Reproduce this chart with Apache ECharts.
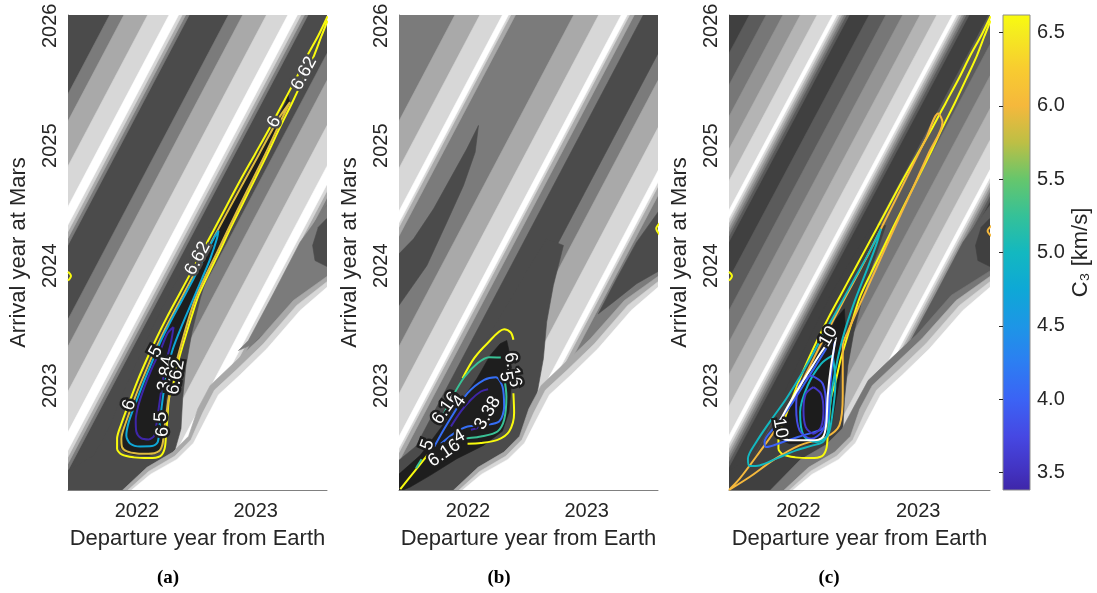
<!DOCTYPE html>
<html>
<head>
<meta charset="utf-8">
<script src="https://cdn.jsdelivr.net/npm/echarts@6.0.0/dist/echarts.min.js"></script>
<style>
html,body{margin:0;padding:0;background:#ffffff;}
#chart{width:1097px;height:593px;}
</style>
</head>
<body>
<div id="chart"></div>
<script>
// ---------------- axes / ticks / texts ----------------
const xRange = [2021.42, 2023.60];
const yRange = [2022.13, 2026.09];
const xTicks = [2022, 2023];
const yTicks = [2023, 2024, 2025, 2026];
const cRange = [3.38, 6.62];
const cTicks = [3.5, 4.0, 4.5, 5.0, 5.5, 6.0, 6.5];
const panelNames = ['(a)', '(b)', '(c)'];
const xTitle = 'Departure year from Earth';
const yTitle = 'Arrival year at Mars';
const cTitle = 'C\u2083 [km/s]';
const climA = [3.84, 6.62], climB = [3.38, 6.16], climC = [3.38, 6.62];

// ---------------- filled-contour regions (level, polygon in data units) ----------------
const frame = [[2021.3,2022.0],[2023.7,2022.0],[2023.7,2026.2],[2021.3,2026.2]];
const stripeY = [2026.2, 2022.0];
// [level, x top-left, x top-right, x bottom-right, x bottom-left]
const stripesA = [
 [2,2021.829,2022.499,2020.264,2019.594],[3,2021.949,2022.469,2020.234,2019.714],[4,2022.149,2022.439,2020.204,2019.914],[5,2022.329,2022.409,2020.174,2020.094],
 [2,2022.829,2023.499,2021.264,2020.594],[3,2022.949,2023.469,2021.234,2020.714],[4,2023.149,2023.439,2021.204,2020.914],[5,2023.329,2023.409,2021.174,2021.094],
 [2,2023.829,2024.499,2022.264,2021.594],[3,2023.949,2024.469,2022.234,2021.714],[4,2024.149,2024.439,2022.204,2021.914],[5,2024.329,2024.409,2022.174,2022.094],
 [2,2024.829,2025.499,2023.264,2022.594],[3,2024.949,2025.469,2023.234,2022.714],[4,2025.149,2025.439,2023.204,2022.914],[5,2025.329,2025.409,2023.174,2023.094]
];
const stripesB = [
 [3,2021.949,2022.459,2020.224,2019.714],[4,2022.159,2022.419,2020.184,2019.924],[5,2022.349,2022.399,2020.164,2020.114],
 [3,2022.949,2023.459,2021.224,2020.714],[4,2023.159,2023.419,2021.184,2020.924],[5,2023.349,2023.399,2021.164,2021.114],
 [3,2023.949,2024.459,2022.224,2021.714],[4,2024.159,2024.419,2022.184,2021.924],[5,2024.349,2024.399,2022.164,2022.114],
 [3,2024.949,2025.459,2023.224,2022.714],[4,2025.159,2025.419,2023.184,2022.924],[5,2025.349,2025.399,2023.164,2023.114],
 [1,2023.535,2023.829,2021.594,2021.300]
];
const stripesC = [
 [2,2021.649,2022.484,2020.249,2019.414],[3,2021.789,2022.459,2020.224,2019.554],[4,2021.929,2022.439,2020.204,2019.694],[5,2022.074,2022.419,2020.184,2019.839],[6,2022.214,2022.399,2020.164,2019.979],[7,2022.345,2022.379,2020.144,2020.110],
 [2,2022.649,2023.484,2021.249,2020.414],[3,2022.789,2023.459,2021.224,2020.554],[4,2022.929,2023.439,2021.204,2020.694],[5,2023.074,2023.419,2021.184,2020.839],[6,2023.214,2023.399,2021.164,2020.979],[7,2023.345,2023.379,2021.144,2021.110],
 [2,2023.649,2024.484,2022.249,2021.414],[3,2023.789,2024.459,2022.224,2021.554],[4,2023.929,2024.439,2022.204,2021.694],[5,2024.074,2024.419,2022.184,2021.839],[6,2024.214,2024.399,2022.164,2021.979],[7,2024.345,2024.379,2022.144,2022.110],
 [2,2024.649,2025.484,2023.249,2022.414],[3,2024.789,2025.459,2023.224,2022.554],[4,2024.929,2025.439,2023.204,2022.694],[5,2025.074,2025.419,2023.184,2022.839],[6,2025.214,2025.399,2023.164,2022.979],[7,2025.345,2025.379,2023.144,2023.110]
];
const valleyHaloA = [[2022.729,2024.335],[2022.617,2024.002],[2022.533,2023.724],[2022.463,2023.446],[2022.413,2023.168],[2022.385,2022.891],[2022.371,2022.641],[2022.315,2022.446],[2022.175,2022.307],[2021.973,2022.196],[2021.82,2022.0],[2021.3,2022.0],[2021.3,2022.224],[2021.637,2022.418],[2021.777,2022.669],[2021.861,2022.891],[2021.973,2023.141],[2022.113,2023.446],[2022.281,2023.780],[2022.477,2024.113],[2022.617,2024.335]];
const tongueA = [[2023.65,2024.571],[2023.374,2024.196],[2023.149,2023.766],[2022.939,2023.377],[2022.855,2023.293],[2022.981,2023.349],[2023.205,2023.571],[2023.429,2023.780],[2023.65,2023.919]];
const lensA = [[2023.65,2024.446],[2023.527,2024.321],[2023.479,2024.168],[2023.499,2024.043],[2023.65,2023.968]];
const invalidHaloC = [[2023.65,2023.988],[2023.275,2023.752],[2022.995,2023.432],[2022.771,2023.224],[2022.583,2023.044],[2022.477,2022.849],[2022.365,2022.641],[2022.231,2022.507],[2022.015,2022.382],[2021.64,2022.0],[2023.65,2022.0]];
const invalidHalo1 = [[2023.65,2023.946],[2023.317,2023.710],[2023.031,2023.391],[2022.807,2023.180],[2022.617,2023.002],[2022.513,2022.807],[2022.435,2022.579],[2022.303,2022.446],[2022.085,2022.319],[2021.74,2022.0],[2023.65,2022.0]];
const invalidHalo2 = [[2023.65,2023.905],[2023.345,2023.669],[2023.065,2023.349],[2022.841,2023.135],[2022.653,2022.963],[2022.553,2022.771],[2022.455,2022.549],[2022.320,2022.413],[2022.099,2022.285],[2021.78,2022.0],[2023.65,2022.0]];
const invalidRegion = [[2023.65,2023.863],[2023.374,2023.627],[2023.094,2023.307],[2022.870,2023.091],[2022.687,2022.924],[2022.589,2022.738],[2022.477,2022.521],[2022.337,2022.385],[2022.113,2022.260],[2021.80,2022.0],[2023.65,2022.0]];
const blackA = [[2023.272,2025.419],[2023.255,2025.363],[2023.143,2025.155],[2023.017,2024.932],[2022.779,2024.502],[2022.569,2024.113],[2022.373,2023.752],[2022.191,2023.404],[2022.023,2023.030],[2021.891,2022.682],[2021.861,2022.557],[2021.861,2022.480],[2021.903,2022.441],[2021.987,2022.424],[2022.099,2022.418],[2022.183,2022.441],[2022.214,2022.502],[2022.225,2022.613],[2022.247,2022.891],[2022.287,2023.030],[2022.331,2023.224],[2022.385,2023.404],[2022.441,2023.585],[2022.497,2023.752],[2022.581,2023.932],[2022.670,2024.113],[2022.763,2024.307],[2022.861,2024.502],[2022.973,2024.724],[2023.076,2024.932],[2023.183,2025.155],[2023.286,2025.363]];
const leftTongueB = [[2022.089,2025.169],[2021.991,2024.974],[2021.851,2024.724],[2021.711,2024.474],[2021.543,2024.224],[2021.38,2024.058],[2021.38,2023.613],[2021.655,2024.002],[2021.823,2024.363],[2021.963,2024.669],[2022.061,2024.946]];
const darkHaloB = [[2022.804,2024.169],[2022.719,2023.835],[2022.663,2023.530],[2022.635,2023.224],[2022.579,2022.919],[2022.509,2022.669],[2022.411,2022.446],[2022.243,2022.307],[2021.963,2022.196],[2021.78,2022.0],[2021.3,2022.0],[2021.3,2022.280],[2021.571,2022.502],[2021.767,2022.780],[2021.963,2023.057],[2022.131,2023.335],[2022.327,2023.669],[2022.523,2024.002],[2022.663,2024.224]];
const lensB = [[2023.65,2024.516],[2023.420,2024.196],[2023.252,2023.891],[2023.098,2023.599],[2023.224,2023.696],[2023.420,2023.850],[2023.65,2023.980]];
const blackB = [[2022.327,2023.377],[2022.360,2023.224],[2022.365,2023.000],[2022.345,2022.780],[2022.290,2022.620],[2022.131,2022.502],[2021.907,2022.391],[2021.683,2022.252],[2021.515,2022.155],[2021.38,2022.10],[2021.375,2022.224],[2021.599,2022.419],[2021.767,2022.641],[2021.935,2022.863],[2022.075,2023.057],[2022.187,2023.252],[2022.271,2023.349]];
const blackC = [[2022.384,2023.641],[2022.392,2023.474],[2022.364,2023.196],[2022.322,2022.919],[2022.281,2022.696],[2022.225,2022.557],[2022.092,2022.516],[2021.925,2022.516],[2021.828,2022.557],[2021.842,2022.669],[2021.925,2022.835],[2022.064,2023.085],[2022.203,2023.335],[2022.314,2023.557]];

// ---------------- contour lines (level value, points) ----------------
const yellowA = [[2023.605,2026.080],[2023.527,2025.919],[2023.435,2025.752],[2023.345,2025.571],[2023.233,2025.363],[2023.121,2025.155],[2022.995,2024.932],[2022.869,2024.710],[2022.757,2024.502],[2022.645,2024.293],[2022.547,2024.113],[2022.449,2023.932],[2022.351,2023.752],[2022.253,2023.571],[2022.169,2023.404],[2022.085,2023.224],[2022.001,2023.030],[2021.931,2022.849],[2021.869,2022.682],[2021.833,2022.557],[2021.833,2022.474],[2021.875,2022.424],[2021.973,2022.402],[2022.099,2022.396],[2022.197,2022.413],[2022.233,2022.474],[2022.245,2022.585],[2022.253,2022.682],[2022.270,2022.891],[2022.309,2023.030],[2022.354,2023.224],[2022.407,2023.404],[2022.463,2023.585],[2022.519,2023.752],[2022.603,2023.932],[2022.693,2024.113],[2022.785,2024.307],[2022.883,2024.502],[2022.995,2024.724],[2023.099,2024.932],[2023.205,2025.155],[2023.309,2025.363],[2023.401,2025.557],[2023.491,2025.752],[2023.555,2025.919],[2023.605,2026.044]];
const orangeA = [[2023.289,2025.363],[2023.191,2025.224],[2023.029,2024.932],[2022.791,2024.502],[2022.581,2024.113],[2022.385,2023.752],[2022.203,2023.404],[2022.035,2023.030],[2021.903,2022.682],[2021.869,2022.557],[2021.875,2022.488],[2021.917,2022.452],[2022.001,2022.435],[2022.099,2022.432],[2022.183,2022.452],[2022.214,2022.507],[2022.228,2022.613],[2022.236,2022.682],[2022.292,2023.030],[2022.390,2023.404],[2022.502,2023.752],[2022.676,2024.113],[2022.866,2024.502],[2023.082,2024.932],[2023.219,2025.224],[2023.289,2025.363]];
const cyanA = [[2022.687,2024.293],[2022.645,2024.224],[2022.561,2024.057],[2022.477,2023.891],[2022.379,2023.710],[2022.281,2023.530],[2022.197,2023.363],[2022.127,2023.196],[2022.057,2023.030],[2021.987,2022.849],[2021.931,2022.696],[2021.911,2022.585],[2021.945,2022.516],[2022.029,2022.493],[2022.127,2022.496],[2022.175,2022.529],[2022.191,2022.669],[2022.203,2022.780],[2022.225,2022.946],[2022.253,2023.113],[2022.303,2023.307],[2022.379,2023.502],[2022.463,2023.696],[2022.547,2023.891],[2022.617,2024.057],[2022.673,2024.224],[2022.687,2024.293]];
const purpleA = [[2022.309,2023.488],[2022.287,2023.363],[2022.253,2023.224],[2022.225,2023.085],[2022.203,2022.946],[2022.183,2022.807],[2022.163,2022.669],[2022.147,2022.585],[2022.099,2022.552],[2022.035,2022.563],[2021.995,2022.618],[2021.990,2022.710],[2022.012,2022.835],[2022.063,2022.988],[2022.127,2023.146],[2022.197,2023.293],[2022.259,2023.438],[2022.309,2023.488]];
const edgeBitA = [[2021.42,2023.950],[2021.445,2023.915],[2021.42,2023.875]];
const linesA = [[6.62, yellowA], [6.0, orangeA], [5.0, cyanA], [3.84, purpleA], [6.62, edgeBitA]];

const yellowB1 = [[2021.955,2023.062],[2022.053,2023.229],[2022.165,2023.354],[2022.305,2023.471],[2022.361,2023.443],[2022.383,2023.382]];
const yellowB2 = [[2022.383,2022.937],[2022.389,2022.771],[2022.347,2022.618],[2022.249,2022.548],[2022.109,2022.521],[2021.997,2022.515]];
const yellowB3 = [[2021.431,2022.137],[2021.549,2022.284],[2021.661,2022.423]];
const greenB1 = [[2021.759,2022.687],[2021.871,2022.909],[2021.969,2023.070],[2022.081,2023.187],[2022.179,2023.237],[2022.277,2023.234]];
const greenB2 = [[2022.305,2023.070],[2022.324,2022.909],[2022.305,2022.715],[2022.249,2022.618],[2022.109,2022.576],[2021.969,2022.557],[2021.871,2022.535]];
const greenB3 = [[2021.563,2022.312],[2021.610,2022.387]];
const blueB = [[2021.717,2022.493],[2021.829,2022.687],[2021.997,2022.937],[2022.137,2023.048],[2022.235,2023.070],[2022.291,2022.993],[2022.305,2022.826],[2022.263,2022.701],[2022.137,2022.673],[2021.997,2022.659],[2021.885,2022.604],[2021.773,2022.515]];
const purpleB1 = [[2021.857,2022.659],[2021.941,2022.785],[2022.025,2022.882],[2022.109,2022.951],[2022.170,2022.970]];
const purpleB2 = [[2022.025,2022.632],[2022.137,2022.659]];
const edgeBitB = [[2023.62,2024.360],[2023.585,2024.310],[2023.62,2024.250]];
const linesB = [[6.16, yellowB1], [6.16, yellowB2], [6.16, yellowB3], [5.0, greenB1], [5.0, greenB2], [5.0, greenB3], [4.0, blueB], [3.38, purpleB1], [3.38, purpleB2], [6.16, edgeBitB]];

const orangeC = [[2021.42,2022.13],[2021.509,2022.224],[2021.675,2022.446],[2021.814,2022.641],[2021.953,2022.877],[2022.092,2023.155],[2022.231,2023.432],[2022.370,2023.696],[2022.564,2024.057],[2022.731,2024.391],[2022.898,2024.724],[2023.064,2025.057],[2023.167,2025.269],[2023.203,2025.196],[2023.092,2024.946],[2022.953,2024.641],[2022.786,2024.280],[2022.648,2023.974],[2022.509,2023.669],[2022.411,2023.446],[2022.370,2023.335],[2022.370,2022.919],[2022.342,2022.669],[2022.231,2022.571],[2022.009,2022.502],[2021.786,2022.377],[2021.592,2022.238],[2021.42,2022.13]];
const cyanC = [[2022.689,2024.307],[2022.592,2024.113],[2022.453,2023.863],[2022.314,2023.613],[2022.175,2023.363],[2022.036,2023.113],[2021.898,2022.891],[2021.759,2022.696],[2021.648,2022.530],[2021.578,2022.391],[2021.592,2022.330],[2021.675,2022.335],[2021.814,2022.391],[2021.981,2022.460],[2022.120,2022.502],[2022.203,2022.530],[2022.245,2022.613],[2022.259,2022.780],[2022.286,2023.002],[2022.328,2023.224],[2022.384,2023.446],[2022.467,2023.696],[2022.564,2023.946],[2022.648,2024.169],[2022.689,2024.307]];
const cyanC2 = [[2022.286,2023.252],[2022.189,2023.182],[2022.078,2023.002],[2022.014,2022.780],[2022.042,2022.585],[2022.148,2022.530],[2022.245,2022.585],[2022.286,2022.780],[2022.309,2023.030],[2022.286,2023.252]];
const blueC = [[2022.314,2023.460],[2022.231,2023.307],[2022.092,2023.085],[2021.953,2022.863],[2021.814,2022.669],[2021.717,2022.530],[2021.731,2022.488],[2021.870,2022.530],[2022.036,2022.585],[2022.203,2022.641],[2022.245,2022.724],[2022.259,2022.919],[2022.281,2023.169],[2022.314,2023.460]];
const blueC2 = [[2022.106,2023.085],[2022.203,2023.016],[2022.231,2022.821],[2022.203,2022.627],[2022.106,2022.557],[2022.009,2022.627],[2021.981,2022.821],[2022.009,2023.016],[2022.106,2023.085]];
const purpleC = [[2022.125,2022.988],[2022.189,2022.932],[2022.209,2022.794],[2022.189,2022.655],[2022.125,2022.599],[2022.061,2022.655],[2022.042,2022.794],[2022.061,2022.932],[2022.125,2022.988]];
const whiteC = [[2022.314,2023.405],[2022.231,2023.335],[2022.120,2023.169],[2021.981,2022.946],[2021.870,2022.752],[2021.820,2022.641],[2021.842,2022.571],[2021.953,2022.544],[2022.120,2022.544],[2022.203,2022.571],[2022.231,2022.669],[2022.245,2022.919],[2022.273,2023.169],[2022.314,2023.405]];
const edgeBitC1 = [[2021.42,2023.950],[2021.445,2023.915],[2021.42,2023.875]];
const edgeBitC2 = [[2023.62,2024.340],[2023.58,2024.290],[2023.62,2024.240]];
const linesC = [[6.62, yellowA], [6.0, orangeC], [5.0, cyanC], [5.0, cyanC2], [4.0, blueC], [3.8, blueC2], [3.55, purpleC], [10, whiteC], [6.62, edgeBitC1], [6.0, edgeBitC2]];

// ---------------- contour labels [text, x, y, angle, fill level under the label] ----------------
const labelsA = [['6.62',2023.407,2025.602,62,1],['6',2023.155,2025.199,62,1],['6.62',2022.511,2024.060,62,1],['5',2022.161,2023.282,62,0],['6',2021.937,2022.838,72,0],['3.84',2022.245,2023.099,82,0],['6.62',2022.329,2023.071,80,0],['5',2022.203,2022.741,88,0],['6',2022.217,2022.616,88,0]];
const labelsB = [['6.16',2021.815,2022.812,55,0],['4',2021.927,2022.868,55,0],['5',2021.661,2022.507,70,0],['6.16',2021.801,2022.437,35,0],['4',2021.927,2022.576,30,0],['3.38',2022.166,2022.771,60,0],['6.16',2022.376,2023.132,-80,0],['5',2022.319,2023.076,-80,0]];
const labelsC = [['10',2022.250,2023.409,60,0],['10',2021.848,2022.646,-80,0]];

// ---------------- colour bar stops ----------------
const cbarStops = [[0,'#3e26a8'],[0.04,'#4232c0'],[0.114,'#4648e3'],[0.191,'#3b63f5'],[0.269,'#2c7ef2'],[0.346,'#1d96e6'],[0.423,'#0ea8d6'],[0.5,'#13b8c0'],[0.577,'#35c198'],[0.654,'#66c66c'],[0.731,'#bdbf45'],[0.809,'#f5b83c'],[0.886,'#f8cc30'],[0.963,'#f5ec1f'],[1,'#f9fb0e']];

// ---------------- styles ----------------
const FONT = '"Liberation Sans", Arial, Helvetica, sans-serif';
const TXT = '#262626';
const AXC = '#808080';
const grayAB = ['#1e1e1e','#4b4b4b','#7b7b7b','#a9a9a9','#d7d7d7','#ffffff'];
const grayC = ['#1c1c1c','#404040','#5b5b5b','#777777','#949494','#b4b4b4','#d9d9d9','#ffffff'];

function hex2rgb(h){return [parseInt(h.slice(1,3),16),parseInt(h.slice(3,5),16),parseInt(h.slice(5,7),16)];}
function cmap(t){
  t = Math.max(0, Math.min(1, t));
  for (let i = 1; i < cbarStops.length; i++) {
    if (t <= cbarStops[i][0]) {
      const a = cbarStops[i-1], b = cbarStops[i];
      const f = (t - a[0]) / (b[0] - a[0]);
      const ca = hex2rgb(a[1]), cb = hex2rgb(b[1]);
      return 'rgb(' + ca.map((v,k)=>Math.round(v + (cb[k]-v)*f)).join(',') + ')';
    }
  }
  return cbarStops[cbarStops.length-1][1];
}
function toPoly(s){ return [s[0], [[s[1],stripeY[0]],[s[2],stripeY[0]],[s[3],stripeY[1]],[s[4],stripeY[1]]]]; }

const regionsA = [[1, frame]].concat(stripesA.map(toPoly), [[1, valleyHaloA],[2, tongueA],[3, invalidHalo1],[1, lensA],[4, invalidHalo2],[5, invalidRegion],[0, blackA]]);
const regionsB = [[2, frame]].concat(stripesB.map(toPoly), [[1, leftTongueB],[1, darkHaloB],[1, lensB],[3, invalidHalo1],[4, invalidHalo2],[5, invalidRegion],[0, blackB]]);
const regionsC = [[1, frame]].concat(stripesC.map(toPoly), [[1, valleyHaloA],[2, tongueA],[3, invalidHaloC],[1, lensA],[5, invalidHalo1],[6, invalidHalo2],[7, invalidRegion],[0, blackC]]);

function fillSeries(gi, regions, pal){
  return {
    type:'custom', xAxisIndex:gi, yAxisIndex:gi, clip:true, silent:true, z:1, animation:false,
    data: regions.map((r,i)=>[r[1][0][0], r[1][0][1], i]),
    renderItem:(params, api)=>{
      const r = regions[params.dataIndex];
      return {type:'polygon', shape:{points:r[1].map(p=>api.coord(p))}, style:{fill:pal[r[0]], stroke:pal[r[0]], lineWidth:0.6}};
    }
  };
}
function lineSeries(gi, lines, clim){
  return lines.map(l=>({
    type:'line', xAxisIndex:gi, yAxisIndex:gi, data:l[1], symbol:'none', showSymbol:false, smooth:0.3,
    clip:true, silent:true, z:3, animation:false,
    lineStyle:{width:2, color: l[0] > clim[1] + 0.5 ? '#ffffff' : cmap((l[0]-clim[0])/(clim[1]-clim[0]))}
  }));
}
function labelSeries(gi, labels, pal){
  return {
    type:'custom', xAxisIndex:gi, yAxisIndex:gi, clip:false, silent:true, z:4, animation:false,
    data: labels.map(l=>[l[1], l[2]]),
    renderItem:(params, api)=>{
      const l = labels[params.dataIndex];
      const c = api.coord([l[1], l[2]]);
      return {type:'text', x:c[0], y:c[1], rotation:l[3]*Math.PI/180,
        style:{text:l[0], fill:'#ffffff', fontSize:18, fontFamily:FONT, align:'center', verticalAlign:'middle',
               stroke:pal[l[4]], lineWidth:5, strokeFirst:true}};
    }
  };
}

const gridBoxes = [
  {left:68, top:15, width:259, height:475},
  {left:399, top:15, width:259, height:475},
  {left:729, top:15, width:261, height:475},
  {left:1003, top:15, width:27, height:475}
];

const xAxes = [0,1,2].map(i=>({
  type:'value', gridIndex:i, min:xRange[0], max:xRange[1],
  axisLine:{show:true, onZero:false, lineStyle:{color:AXC, width:1}},
  axisTick:{show:true, inside:true, length:5, customValues:xTicks, lineStyle:{color:AXC}},
  axisLabel:{customValues:xTicks, formatter:v=>String(Math.round(v)), color:TXT, fontSize:20, fontFamily:FONT, margin:11},
  splitLine:{show:false},
  name:xTitle, nameLocation:'middle', nameGap:38, nameTextStyle:{color:TXT, fontSize:22, fontFamily:FONT}
}));
xAxes.push({type:'value', gridIndex:3, min:0, max:1, show:false});

const yAxes = [0,1,2].map(i=>({
  type:'value', gridIndex:i, min:yRange[0], max:yRange[1],
  axisLine:{show:true, onZero:false, lineStyle:{color:AXC, width:1}},
  axisTick:{show:true, inside:true, length:5, customValues:yTicks, lineStyle:{color:AXC}},
  axisLabel:{customValues:yTicks, formatter:v=>String(Math.round(v)), rotate:90, color:TXT, fontSize:20, fontFamily:FONT, margin:8},
  splitLine:{show:false},
  name:yTitle, nameLocation:'middle', nameGap:38, nameRotate:90, nameTextStyle:{color:TXT, fontSize:22, fontFamily:FONT}
}));
yAxes.push({
  type:'value', gridIndex:3, position:'right', min:cRange[0], max:cRange[1], z:10,
  axisLine:{show:false},
  axisTick:{show:true, inside:true, length:4, customValues:cTicks, lineStyle:{color:TXT}},
  axisLabel:{customValues:cTicks, formatter:v=>v.toFixed(1), color:TXT, fontSize:20, fontFamily:FONT, margin:7},
  splitLine:{show:false},
  name:cTitle, nameLocation:'middle', nameGap:40, nameRotate:90, nameTextStyle:{color:TXT, fontSize:22, fontFamily:FONT}
});

const cbarSeries = {
  type:'custom', xAxisIndex:3, yAxisIndex:3, silent:true, z:1, animation:false, clip:false,
  data:[[0, cRange[0]]],
  renderItem:(params, api)=>{
    const p0 = api.coord([0, cRange[0]]), p1 = api.coord([1, cRange[1]]);
    return {type:'rect', shape:{x:p0[0], y:p1[1], width:p1[0]-p0[0], height:p0[1]-p1[1]},
      style:{fill:new echarts.graphic.LinearGradient(0,1,0,0, cbarStops.map(s=>({offset:s[0], color:s[1]}))), stroke:'#8c8c8c', lineWidth:1}};
  }
};

const panelX = [168, 499, 829];
const option = {
  backgroundColor:'#ffffff',
  animation:false,
  grid: gridBoxes.map(g=>Object.assign({outerBoundsMode:'none', containLabel:false}, g)),
  xAxis: xAxes,
  yAxis: yAxes,
  graphic: panelNames.map((t,i)=>({type:'text', x:panelX[i], y:578, style:{text:t, fill:'#000', font:'bold 19px "Liberation Serif", "Times New Roman", serif', align:'center', verticalAlign:'middle'}})),
  series: [
    fillSeries(0, regionsA, grayAB), ...lineSeries(0, linesA, climA), labelSeries(0, labelsA, grayAB),
    fillSeries(1, regionsB, grayAB), ...lineSeries(1, linesB, climB), labelSeries(1, labelsB, grayAB),
    fillSeries(2, regionsC, grayC), ...lineSeries(2, linesC, climC), labelSeries(2, labelsC, grayC),
    cbarSeries
  ]
};
const chart = echarts.init(document.getElementById('chart'), null, {renderer:'canvas'});
chart.setOption(option);
</script>
</body>
</html>
